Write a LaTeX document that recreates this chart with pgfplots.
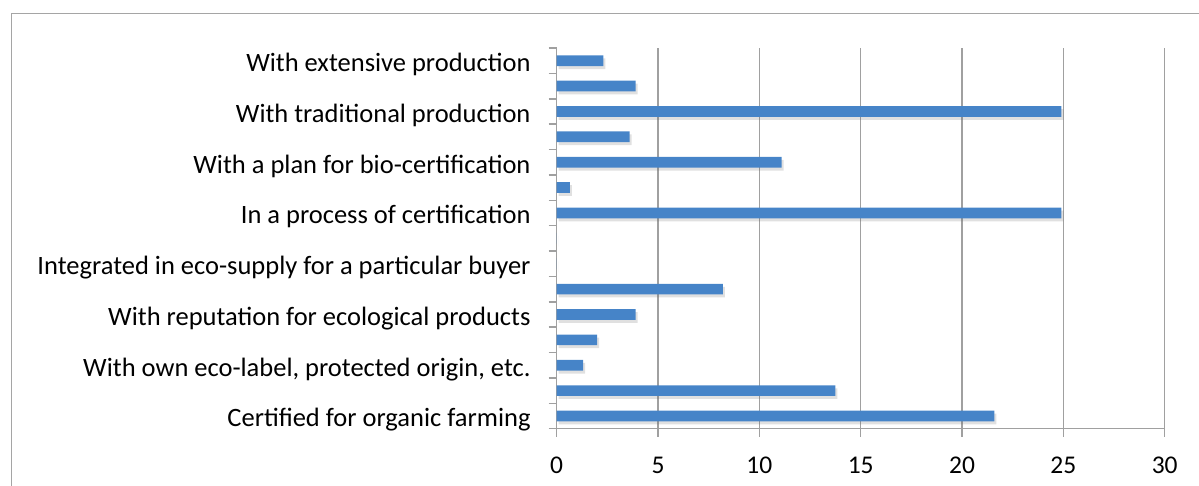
\documentclass[border=0pt]{standalone}
\usepackage{fontspec}
\setmainfont{Carlito}
\usepackage{pgfplots}
\pgfplotsset{compat=1.18}
\usetikzlibrary{shadows}
\definecolor{barBlue}{RGB}{70,132,200}
\definecolor{gridGray}{RGB}{160,160,160}
\definecolor{frameGray}{RGB}{165,165,165}

\begin{document}
\begin{tikzpicture}[x=1pt,y=1pt]
\useasboundingbox (0,0) rectangle (1199,486);
% chart frame (only top and left edges visible)
\draw[frameGray, line width=1.5pt] (11.5,-5) -- (11.5,472.7) -- (1210,472.7);
\begin{axis}[
    at={(556.7pt,57.3pt)}, anchor=south west,
    scale only axis, width=608pt, height=380.7pt,
    xmin=0, xmax=30, ymin=-0.5, ymax=14.5,
    xtick={0,5,...,30},
    ytick={-0.5,0.5,...,14.5}, yticklabels={},
    extra y ticks={0,2,...,14},
    extra y tick labels={
        Certified for organic farming,
        {With own eco-label, protected origin, etc.},
        With reputation for ecological products,
        Integrated in eco-supply for a particular buyer,
        In a process of certification,
        With a plan for bio-certification,
        With traditional production,
        With extensive production},
    extra y tick style={major tick length=0pt, grid=none,
        yticklabel style={inner sep=0pt, xshift=-26pt, yshift=-4pt,
            font=\fontsize{26.5}{30}\selectfont}},
    axis x line*=bottom, axis y line*=left,
    axis line style={-, draw=gridGray, line width=1.5pt},
    tick align=outside, major tick length=8pt,
    tick style={draw=gridGray, line width=1.5pt},
    xmajorgrids, major grid style={draw=gridGray, line width=1.5pt},
    ticklabel style={text=black},
    xticklabel style={font=\fontsize{25.5}{29}\selectfont, yshift=-17pt},
    /pgf/number format/assume math mode=true,
    clip=false,
]
\addplot[xbar, bar width=10.7pt, draw=none, fill=barBlue,
    drop shadow={shadow xshift=2pt, shadow yshift=-3pt, opacity=0.2,
        fill=black!60}]
coordinates {
    (21.6,0) (13.75,1) (1.3,2) (2.0,3) (3.9,4) (8.2,5) (0,6) (0,7)
    (24.9,8) (0.65,9) (11.1,10) (3.6,11) (24.9,12) (3.9,13) (2.3,14)
};
\end{axis}
\end{tikzpicture}
\end{document}
